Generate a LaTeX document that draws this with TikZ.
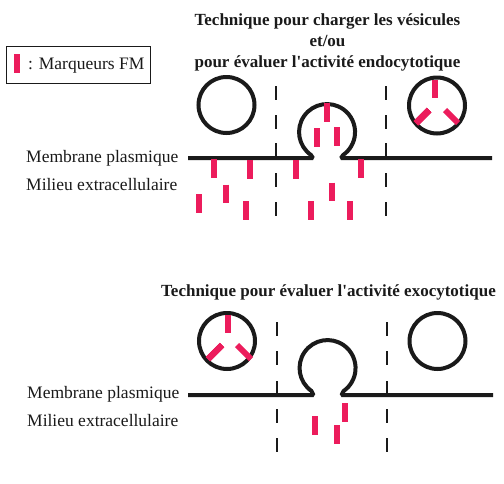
\documentclass[tikz,border=0pt]{standalone}
\usepackage{fontspec}
\setmainfont{Liberation Serif}
\definecolor{fmred}{HTML}{EC1C5C}
\definecolor{ink}{HTML}{1A1A1A}
\tikzset{
  membrane/.style={draw=ink,line width=4pt,line join=bevel},
  vesicle/.style={draw=ink,line width=4pt},
  boundary/.style={draw=ink,line width=1.3pt},
  fm/.style={draw=fmred,line width=6pt},
  label/.style={font=\fontsize{17.5}{20}\selectfont,text=ink,anchor=base west,inner sep=0pt},
  heading/.style={font=\fontsize{17}{20}\selectfont\bfseries,text=ink,anchor=base,inner sep=0pt},
}
% Vertical boundary drawn as five separate strokes
\newcommand{\zone}[6]{%
  \draw[boundary] (#1,#2) -- (#1,#2+14);
  \draw[boundary] (#1,#3) -- (#1,#3+14);
  \draw[boundary] (#1,#4) -- (#1,#4+15);
  \draw[boundary] (#1,#5) -- (#1,#5+14);
  \draw[boundary] (#1,#6) -- (#1,#6+14);
}
% Vertical marker: x, top y
\newcommand{\fmbar}[2]{\draw[fm] (#1,#2) -- (#1,#2+18.5);}
\begin{document}
\begin{tikzpicture}[x=1pt,y=-1pt]
\useasboundingbox (0,0) rectangle (504,483);
\fill[white] (0,0) rectangle (504,483);

% Legend
\draw[draw=ink,line width=1pt] (6,46) rectangle (150.5,83);
\fmbar{17}{54}
\node[label] (legend) at (28,69.5) {: Marqueurs FM};

% Loading / endocytosis panel
\node[heading] (t1) at (327.5,25) {Technique pour charger les vésicules};
\node[heading] (t2) at (327.5,46) {et/ou};
\node[heading] (t3) at (327.5,67) {pour évaluer l\textquotesingle activité endocytotique};
\node[label] (m1) at (26,162) {Membrane plasmique};
\node[label] (e1) at (26,190) {Milieu extracellulaire};

\zone{276}{86}{115}{143}{173}{202}
\zone{386}{86}{115}{143}{173}{202}

\draw[vesicle] (226.5,105) circle[radius=28];
\draw[vesicle] (437,105.5) circle[radius=28];
\draw[membrane] (188,158) -- (313,158) -- (311,155) arc[start angle=125,end angle=415,radius=28] -- (341,158) -- (492,158);

\foreach \x/\y in {214/159,250/160,226/184.5,199/194,246/201,296/160,361/159,332/182.5,311/201,350/201,327/103,317/128,337/127,435/79.5}
  \fmbar{\x}{\y}
\draw[fm] (429,110) -- (416,123);
\draw[fm] (445,110) -- (458,123);

% Exocytosis panel
\node[heading] (t4) at (328.5,296.5) {Technique pour évaluer l\textquotesingle activité exocytotique};
\node[label] (m2) at (27,398) {Membrane plasmique};
\node[label] (e2) at (27,426) {Milieu extracellulaire};

\zone{277}{322}{351}{381}{409}{438}
\zone{387}{322}{351}{381}{409}{438}

\draw[vesicle] (227,341) circle[radius=28];
\draw[vesicle] (437.5,341) circle[radius=28];
\draw[membrane] (188,395) -- (313.5,395) -- (311.5,391) arc[start angle=125,end angle=415,radius=28] -- (341.5,395) -- (493,395);

\foreach \x/\y in {345/403,315/416,337/425,228/314.5}
  \fmbar{\x}{\y}
\draw[fm] (222,345) -- (208,359);
\draw[fm] (237,345) -- (251,359);
\end{tikzpicture}
\end{document}
